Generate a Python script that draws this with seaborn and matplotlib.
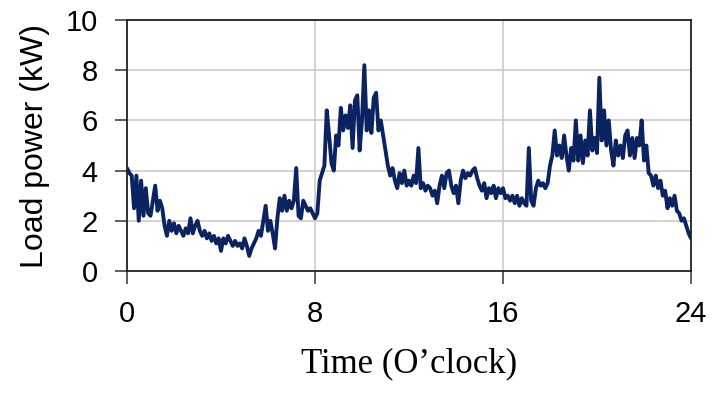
import numpy as np
import pandas as pd
import matplotlib
matplotlib.use("Agg")
import matplotlib.pyplot as plt
import seaborn as sns

# Load power (kW), 10 samples per hour
h00 = [4.1, 3.9, 3.8, 2.5, 3.8, 2.0, 3.6, 2.2, 3.3, 2.3]
h01 = [2.2, 2.8, 3.4, 2.4, 2.8, 2.5, 1.8, 1.4, 2.0, 1.6]
h02 = [1.9, 1.5, 1.8, 1.6, 1.4, 1.7, 1.5, 2.1, 1.5, 1.8]
h03 = [2.0, 1.6, 1.4, 1.6, 1.3, 1.5, 1.2, 1.4, 1.1, 1.3]
h04 = [0.8, 1.3, 1.1, 1.4, 1.2, 1.0, 1.2, 1.0, 1.1, 0.9]
h05 = [1.3, 1.0, 0.6, 0.9, 1.1, 1.3, 1.6, 1.4, 2.0, 2.6]
h06 = [1.6, 2.0, 1.5, 0.9, 2.1, 2.9, 2.4, 3.0, 2.4, 2.8]
h07 = [2.5, 2.8, 4.1, 2.2, 2.1, 2.8, 2.6, 2.4, 2.5, 2.3]
h08 = [2.1, 2.3, 3.6, 3.9, 4.2, 6.4, 5.4, 4.3, 4.0, 5.4]
h09 = [5.0, 6.5, 5.6, 6.2, 5.7, 6.6, 4.9, 6.8, 7.0, 4.8]
h10 = [6.0, 8.2, 5.6, 6.4, 5.5, 6.9, 7.1, 5.6, 6.0, 5.4]
h11 = [4.8, 4.2, 3.8, 4.1, 3.6, 3.3, 3.9, 3.5, 4.0, 3.4]
h12 = [3.6, 3.4, 3.8, 3.5, 4.9, 3.3, 3.5, 3.2, 3.4, 3.3]
h13 = [3.0, 3.2, 2.7, 3.4, 3.8, 3.3, 3.9, 4.0, 3.4, 3.1]
h14 = [3.4, 2.7, 3.6, 4.0, 3.7, 3.9, 3.8, 4.0, 4.1, 3.7]
h15 = [3.4, 3.2, 3.5, 2.9, 3.3, 3.1, 3.4, 2.9, 3.3, 3.1]
h16 = [3.3, 2.9, 3.0, 2.8, 3.0, 2.7, 3.0, 2.6, 2.9, 2.7]
h17 = [2.6, 4.9, 2.8, 2.6, 3.3, 3.6, 3.4, 3.5, 3.3, 3.5]
h18 = [4.2, 4.6, 5.6, 4.6, 5.0, 4.5, 5.4, 4.6, 4.0, 4.9]
h19 = [4.4, 6.0, 4.4, 5.4, 4.3, 5.2, 4.6, 6.4, 4.8, 5.3]
h20 = [4.7, 7.7, 5.2, 6.4, 5.0, 6.0, 4.8, 4.2, 5.2, 4.6]
h21 = [5.0, 4.5, 5.4, 5.6, 4.6, 5.3, 4.5, 5.3, 5.0, 6.0]
h22 = [4.4, 5.0, 3.9, 3.8, 3.4, 3.8, 3.3, 3.6, 3.0, 3.2]
h23 = [2.5, 2.9, 2.6, 3.0, 2.4, 2.3, 2.0, 2.1, 1.8, 1.5]
h24 = [1.3]

x_ticks = [0, 8, 16, 24]
y_ticks = [0, 2, 4, 6, 8, 10]

load = (h00 + h01 + h02 + h03 + h04 + h05 + h06 + h07 + h08 + h09 + h10 + h11
        + h12 + h13 + h14 + h15 + h16 + h17 + h18 + h19 + h20 + h21 + h22 + h23 + h24)
time = np.arange(len(load)) / 10.0
df = pd.DataFrame({"time": time, "load": load})

sns.set_style("white")
plt.rcParams["font.family"] = ["Liberation Sans", "DejaVu Sans"]
plt.rcParams["text.color"] = "black"
plt.rcParams["axes.labelcolor"] = "black"

fig = plt.figure(figsize=(7.12, 3.96), dpi=100)
ax = fig.add_axes([127 / 712, 1 - 271 / 396, (691 - 127) / 712, (271 - 20) / 396])

sns.lineplot(data=df, x="time", y="load", ax=ax, color="#0b2361", linewidth=2.8)

ax.set_xlim(0, 24)
ax.set_ylim(0, 10)
ax.set_xticks(x_ticks)
ax.set_yticks(y_ticks)
ax.set_xticklabels([str(t) for t in x_ticks], fontsize=21)
ax.set_yticklabels([str(t) for t in y_ticks], fontsize=21)
ax.tick_params(axis="both", direction="out", length=9, width=1.1, color="#333333",
               pad=12, left=True, bottom=True, labelcolor="black")
ax.grid(True, color="#c8c8c8", linewidth=1.1)
for s in ax.spines.values():
    s.set_visible(True)
    s.set_color("#222222")
    s.set_linewidth(1.3)

ax.set_xlabel("Time (O\u2019clock)", fontsize=25, family=["Liberation Serif", "DejaVu Serif"],
              labelpad=14, color="black")
ax.set_ylabel("Load power (kW)", fontsize=23, labelpad=11, color="black")

fig.savefig("out.png", dpi=100)
